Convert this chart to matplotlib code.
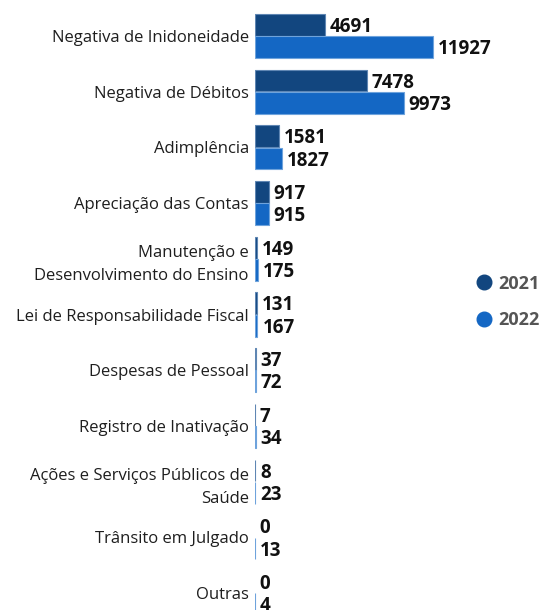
import matplotlib
matplotlib.use('Agg')
import matplotlib.pyplot as plt
from matplotlib.lines import Line2D

plt.rcParams['font.family'] = ['Open Sans', 'DejaVu Sans']

categories = [
    'Negativa de Inidoneidade',
    'Negativa de Débitos',
    'Adimplência',
    'Apreciação das Contas',
    'Manutenção e\nDesenvolvimento do Ensino',
    'Lei de Responsabilidade Fiscal',
    'Despesas de Pessoal',
    'Registro de Inativação',
    'Ações e Serviços Públicos de\nSaúde',
    'Trânsito em Julgado',
    'Outras',
]
values_2021 = [4691, 7478, 1581, 917, 149, 131, 37, 7, 8, 0, 0]
values_2022 = [11927, 9973, 1827, 915, 175, 167, 72, 34, 23, 13, 4]

color_2021 = '#12467f'
color_2022 = '#1467c4'
edge_2021 = '#5f86b3'
edge_2022 = '#6ea3dc'

fig = plt.figure(figsize=(5.48, 6.10), dpi=100)
ax = fig.add_axes([255 / 548, 0, 293 / 548, 1])

pos = list(range(len(categories)))
h = 0.39
lw21 = [0 if v == 0 else 0.8 for v in values_2021]
lw22 = [0 if v == 0 else 0.8 for v in values_2022]
b21 = ax.barh([p - 0.2 for p in pos], values_2021, height=h, color=color_2021,
              edgecolor=edge_2021, linewidth=lw21)
b22 = ax.barh([p + 0.2 for p in pos], values_2022, height=h, color=color_2022,
              edgecolor=edge_2022, linewidth=lw22)

for bars, vals in ((b21, values_2021), (b22, values_2022)):
    for bar, v in zip(bars, vals):
        y = bar.get_y() + bar.get_height() / 2
        ax.annotate(f'{v}', (v, y), xytext=(3.5, -1.5), textcoords='offset points',
                    ha='left', va='center', fontsize=13.5, fontweight='bold',
                    color='#111111')

ax.set_xlim(0, 19633)
ax.set_ylim((610 - 36) / 55.7, -36 / 55.7)
ax.set_yticks(pos)
ax.set_yticklabels(categories, fontsize=12, color='#1e1e1e', linespacing=1.6)
ax.tick_params(axis='y', length=0, pad=4.5)
ax.set_xticks([])
for s in ax.spines.values():
    s.set_visible(False)

# legend on the right side
handles = [
    Line2D([], [], marker='o', linestyle='', markersize=10.5, color=color_2021),
    Line2D([], [], marker='o', linestyle='', markersize=10.5, color=color_2022),
]
leg = fig.legend(handles, ['2021', '2022'], loc='center left',
                 bbox_to_anchor=(457 / 548, 1 - 302 / 610), frameon=False,
                 handletextpad=0.2, labelspacing=1.05, handlelength=1.2,
                 prop={'size': 13, 'weight': 'bold'})
for t in leg.get_texts():
    t.set_color('#555555')

fig.savefig('out.png', dpi=100)
